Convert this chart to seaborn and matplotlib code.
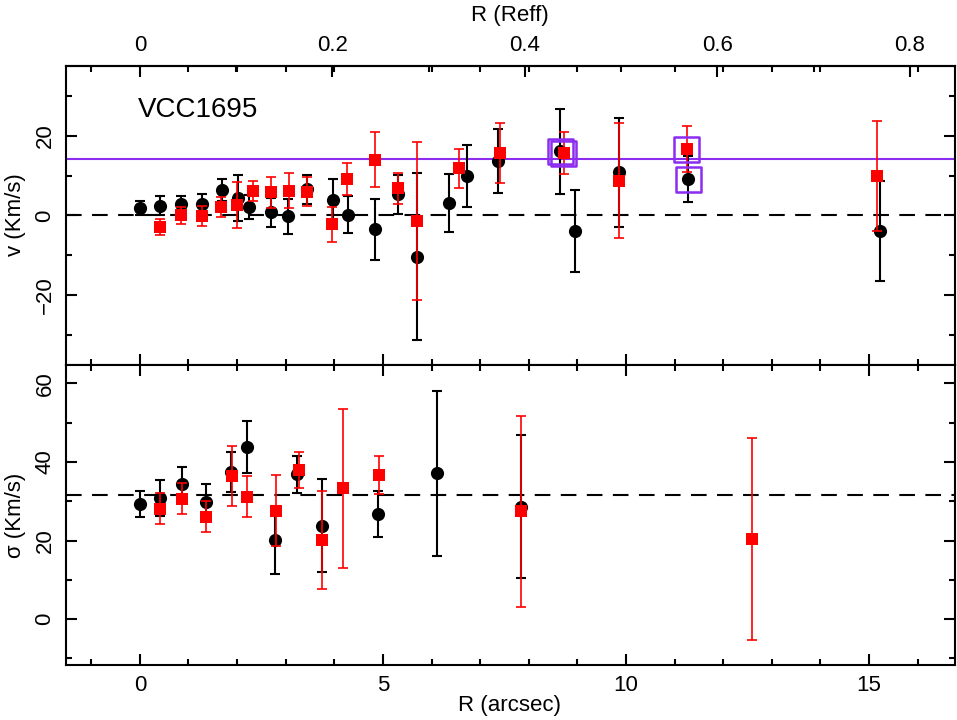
import matplotlib
matplotlib.use("Agg")
import matplotlib.pyplot as plt
from matplotlib.ticker import MultipleLocator
import seaborn as sns

# radius in arcsec, velocities in km/s
vel_r_black = [0.0, 0.41, 0.84, 1.27, 1.69, 2.01, 2.25, 2.70, 3.05, 3.44, 3.98, 4.28,
               4.84, 5.31, 5.71, 6.37, 6.72, 7.37, 8.64, 8.96, 9.86, 11.28, 15.23]
vel_black = [1.8, 2.5, 2.8, 3.0, 6.3, 4.3, 2.2, 0.8, -0.2, 6.6, 3.8, 0.2,
             -3.5, 5.3, -10.3, 3.1, 9.9, 13.6, 16.1, -3.9, 10.8, 9.2, -3.9]
vel_err_black = [1.8, 2.5, 2.0, 2.3, 2.75, 5.8, 3.0, 3.7, 4.4, 3.6, 5.4, 4.6,
                 7.75, 4.8, 21.0, 7.3, 7.75, 8.0, 10.6, 10.25, 13.7, 5.8, 12.5]

vel_r_red = [0.41, 0.84, 1.27, 1.67, 2.0, 2.32, 2.70, 3.06, 3.44, 3.96, 4.27, 4.84,
             5.32, 5.71, 6.56, 7.40, 8.72, 9.86, 11.26, 15.16]
vel_red = [-2.9, 0.0, -0.2, 2.1, 2.6, 6.1, 5.8, 6.2, 6.0, -2.2, 9.2, 14.0,
           6.8, -1.4, 11.8, 15.6, 15.6, 8.75, 16.7, 9.9]
vel_err_red = [2.0, 2.2, 2.5, 2.6, 5.8, 2.5, 3.9, 4.4, 3.7, 4.4, 4.0, 6.9,
               3.8, 19.8, 5.0, 7.5, 5.3, 14.5, 5.7, 13.8]

# points marked with open boxes
box_r = [8.66, 8.72, 11.25, 11.29]
box_v = [16.1, 15.55, 16.6, 9.05]

sig_r_black = [0.0, 0.41, 0.86, 1.37, 1.87, 2.2, 2.78, 3.23, 3.74, 4.9, 6.12, 7.84]
sig_black = [29.3, 30.9, 34.5, 29.8, 37.4, 43.9, 20.2, 36.9, 23.8, 26.7, 37.1, 28.6]
sig_err_black = [3.3, 4.6, 4.2, 4.5, 5.1, 6.6, 8.6, 4.7, 11.8, 5.8, 21.0, 18.2]

sig_r_red = [0.41, 0.86, 1.37, 1.89, 2.2, 2.8, 3.28, 3.74, 4.17, 4.92, 7.85, 12.59]
sig_red = [28.1, 30.7, 26.1, 36.4, 31.2, 27.6, 37.9, 20.2, 33.3, 36.7, 27.4, 20.4]
sig_err_red = [4.0, 3.9, 4.0, 7.6, 5.3, 9.0, 4.6, 12.5, 20.3, 4.9, 24.3, 25.75]

REFF = 19.8        # arcsec
V_SYS = 14.25      # km/s
SIGMA_MEAN = 31.5  # km/s

PURPLE = "#8c2cf0"
DASH = (0, (7.5, 5))

sns.set_style("ticks", {"axes.edgecolor": "black", "xtick.color": "black",
                        "ytick.color": "black", "text.color": "black"})
plt.rcParams["font.family"] = ["Liberation Sans", "DejaVu Sans"]
plt.rcParams["font.size"] = 16

W, H = 957, 720
fig = plt.figure(figsize=(W / 100, H / 100), dpi=100)
ax1 = fig.add_axes([66 / W, 1 - 365 / H, 889 / W, 299 / H])
ax2 = fig.add_axes([66 / W, 1 - 665 / H, 889 / W, 300 / H], sharex=ax1)


def draw_points(ax, r, y, err, color, marker, size, elw, z):
    ax.errorbar(r, y, yerr=err, fmt="none", ecolor=color, elinewidth=elw,
                capsize=3.5, capthick=elw, zorder=z)
    sns.scatterplot(x=r, y=y, marker=marker, s=size, color=color,
                    linewidth=0, ax=ax, zorder=z + 0.5)


# velocity panel
ax1.axhline(0, color="black", lw=1.5, ls=DASH, zorder=1)
ax1.axhline(V_SYS, color=PURPLE, lw=1.5, zorder=1)
draw_points(ax1, vel_r_black, vel_black, vel_err_black, "black", "o", 90, 1.5, 2)
draw_points(ax1, vel_r_red, vel_red, vel_err_red, "red", "s", 85, 1.2, 3)
sns.scatterplot(x=box_r, y=box_v, marker="s", s=324, color=PURPLE,
                facecolor="none", edgecolor=PURPLE, linewidth=1.8, ax=ax1, zorder=5)
ax1.text(0.081, 0.829, "VCC1695", transform=ax1.transAxes, fontsize=20,
         ha="left", va="baseline", color="black")

# dispersion panel
ax2.axhline(SIGMA_MEAN, color="black", lw=1.5, ls=DASH, zorder=1)
draw_points(ax2, sig_r_black, sig_black, sig_err_black, "black", "o", 90, 1.5, 2)
draw_points(ax2, sig_r_red, sig_red, sig_err_red, "red", "s", 85, 1.2, 3)

ax1.set_xlim(-1.52, 16.77)
ax1.set_ylim(-37.5, 37.5)
ax2.set_ylim(-11.7, 64.7)

ax2.xaxis.set_major_locator(MultipleLocator(5))
ax2.xaxis.set_minor_locator(MultipleLocator(1))
ax1.yaxis.set_major_locator(MultipleLocator(20))
ax1.yaxis.set_minor_locator(MultipleLocator(10))
ax2.yaxis.set_major_locator(MultipleLocator(20))
ax2.yaxis.set_minor_locator(MultipleLocator(10))

for ax in (ax1, ax2):
    for s in ax.spines.values():
        s.set_linewidth(1.5)
        s.set_color("black")
    ax.tick_params(which="both", direction="in", width=1.5, left=True, right=True,
                   bottom=True, top=True, labelsize=16, color="black",
                   labelcolor="black")
    ax.tick_params(which="major", length=8)
    ax.tick_params(which="minor", length=4.5)
    ax.tick_params(axis="y", labelrotation=90, pad=7.5)
    for lab in ax.get_yticklabels():
        lab.set_va("center")
    ax.set_xlabel("")
    ax.set_ylabel("")

ax1.tick_params(labelbottom=False, top=False)
ax2.tick_params(axis="x", pad=7)

# top axis in units of the effective radius
sec = ax1.secondary_xaxis("top", functions=(lambda r: r / REFF, lambda x: x * REFF))
sec.set_xticks([0, 0.2, 0.4, 0.6, 0.8], labels=["0", "0.2", "0.4", "0.6", "0.8"])
sec.xaxis.set_minor_locator(MultipleLocator(0.1))
sec.tick_params(which="both", direction="in", width=1.5, labelsize=16, pad=7,
                color="black", labelcolor="black")
sec.tick_params(which="major", length=8)
sec.tick_params(which="minor", length=4.5)
sec.spines["top"].set_linewidth(1.5)
sec.spines["top"].set_color("black")

fig.text(510 / W, 1 - 16 / H, "R (Reff)", ha="center", va="center", fontsize=16)
fig.text(510 / W, 1 - 706 / H, "R (arcsec)", ha="center", va="center", fontsize=16)
fig.text(16 / W, 1 - 215 / H, "v (Km/s)", ha="center", va="center",
         rotation=90, fontsize=16)
fig.text(16 / W, 1 - 515 / H, "σ (Km/s)", ha="center", va="center",
         rotation=90, fontsize=16)

fig.savefig("out.png", dpi=100)
